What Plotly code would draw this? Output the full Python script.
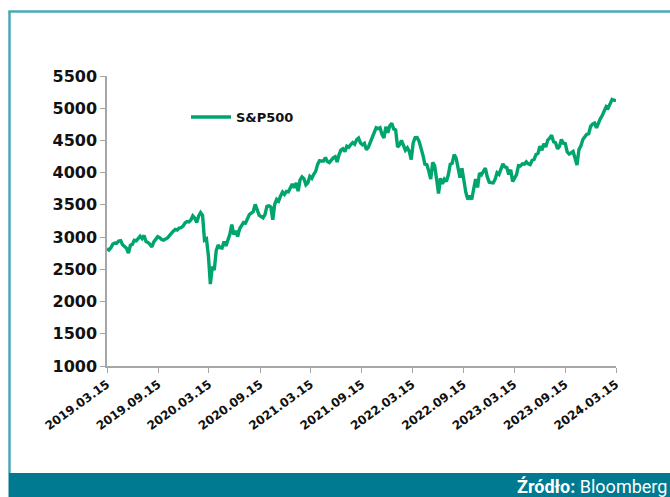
import pandas as pd
import plotly.graph_objects as go

# Weekly S&P500 closes, 2019-03-15 .. 2024-03-15
sp_2019 = [2822, 2800, 2834, 2892, 2907, 2905, 2940, 2946, 2881, 2860, 2826, 2752,
           2873, 2887, 2950, 2942, 2990, 3014, 2977, 3026, 2932, 2919, 2889, 2847,
           2926, 2979, 3007, 2992, 2962, 2952, 2970, 2986, 3023, 3067, 3093, 3120,
           3110, 3141, 3146, 3169, 3221, 3240]
sp_2020 = [3235, 3265, 3330, 3295, 3226, 3328, 3380, 3338, 2954, 2972, 2711, 2270,
           2541, 2489, 2790, 2875, 2837, 2831, 2930, 2864, 2955, 3044, 3194, 3041,
           3098, 3009, 3130, 3185, 3225, 3216, 3271, 3351, 3373, 3397, 3508, 3427,
           3341, 3319, 3298, 3348, 3477, 3484, 3465, 3270, 3510, 3585, 3558, 3638,
           3699, 3663, 3709, 3703, 3756]
sp_2021 = [3825, 3768, 3841, 3714, 3887, 3934, 3907, 3811, 3842, 3943, 3913, 3975,
           4020, 4129, 4185, 4180, 4181, 4233, 4174, 4156, 4204, 4230, 4247, 4166,
           4281, 4352, 4370, 4327, 4412, 4395, 4437, 4468, 4442, 4509, 4535, 4459,
           4433, 4455, 4357, 4391, 4471, 4545, 4605, 4697, 4683, 4698, 4595, 4538,
           4712, 4620, 4726, 4766]
sp_2022 = [4677, 4663, 4398, 4432, 4500, 4419, 4349, 4385, 4329, 4204, 4463, 4543,
           4546, 4488, 4393, 4272, 4132, 4123, 4024, 3901, 4158, 4109, 3901, 3675,
           3912, 3825, 3899, 3863, 3962, 4130, 4145, 4280, 4228, 4058, 3924, 4067,
           3873, 3693, 3586, 3640, 3583, 3753, 3901, 3771, 3993, 3965, 4026, 4072,
           3934, 3852, 3845, 3840]
sp_2023 = [3895, 3999, 3973, 4070, 4136, 4090, 4079, 3970, 4046, 3862, 3917, 3971,
           4109, 4105, 4138, 4133, 4169, 4136, 4124, 4192, 4205, 4282, 4299, 4410,
           4348, 4450, 4399, 4505, 4536, 4582, 4478, 4464, 4370, 4406, 4516, 4457,
           4450, 4320, 4288, 4309, 4328, 4224, 4117, 4358, 4415, 4514, 4559, 4595,
           4604, 4719, 4755, 4770]
sp_2024 = [4697, 4784, 4840, 4891, 4959, 5027, 5006, 5089, 5137, 5124, 5117]

values = sp_2019 + sp_2020 + sp_2021 + sp_2022 + sp_2023 + sp_2024
dates = pd.date_range("2019-03-15", "2024-03-15", periods=len(values))

tick_dates = ["2019-03-15", "2019-09-15", "2020-03-15", "2020-09-15", "2021-03-15",
              "2021-09-15", "2022-03-15", "2022-09-15", "2023-03-15", "2023-09-15",
              "2024-03-15"]
tick_labels = [d.replace("-", ".") for d in tick_dates]
y_ticks = [1000, 1500, 2000, 2500, 3000, 3500, 4000, 4500, 5000, 5500]

W, H = 670, 497
L, R, T, B = 107, 616, 76, 366


def px(x):
    return (x - L) / (R - L)


def py(y):
    return (B - y) / (B - T)


fig = go.Figure()
fig.add_trace(go.Scatter(x=dates, y=values, mode="lines", name="<b>S&P500</b>",
                         line=dict(color="#00A56E", width=3.4)))

fam = "DejaVu Sans, sans-serif"
fig.update_layout(
    width=W, height=H,
    margin=dict(l=L, r=W - R, t=T, b=H - B, pad=0),
    paper_bgcolor="white", plot_bgcolor="white",
    showlegend=True,
    legend=dict(x=px(186), y=py(102), xanchor="left", yanchor="top",
                bgcolor="rgba(0,0,0,0)", itemwidth=40,
                font=dict(family=fam, size=13, color="#111111")),
    xaxis=dict(type="date", range=[dates[0], dates[-1]], tickvals=tick_dates,
               ticktext=["<b>%s</b>" % t for t in tick_labels], tickangle=-36,
               showgrid=False, zeroline=False,
               showline=True, linecolor="#a6a6a6", linewidth=1.5, ticks="outside",
               ticklen=5, tickcolor="#a6a6a6",
               tickfont=dict(family=fam, size=12, color="#111111")),
    yaxis=dict(range=[1000, 5500], tickvals=y_ticks,
               ticktext=["<b>%d</b>" % v for v in y_ticks],
               showgrid=False, zeroline=False,
               showline=True, linecolor="#a6a6a6", linewidth=1.5, ticks="outside",
               ticklen=5, tickcolor="#a6a6a6",
               tickfont=dict(family=fam, size=16, color="#111111")),
)

# frame lines (left and top) and bottom source bar
fig.add_shape(type="line", xref="paper", yref="paper",
              x0=px(9.5), x1=px(9.5), y0=py(11), y1=py(473),
              line=dict(color="#4BA7B7", width=2.5))
fig.add_shape(type="line", xref="paper", yref="paper",
              x0=px(8.5), x1=px(672), y0=py(11.5), y1=py(11.5),
              line=dict(color="#4BA7B7", width=2.5))
fig.add_shape(type="rect", xref="paper", yref="paper",
              x0=px(8.5), x1=px(672), y0=py(473), y1=py(499),
              line=dict(width=0), fillcolor="#007A90", layer="above")
fig.add_annotation(xref="paper", yref="paper", x=px(669), y=py(486),
                   xanchor="right", yanchor="middle", showarrow=False,
                   text="<b>Źródło:</b> Bloomberg",
                   font=dict(family="Roboto, sans-serif", size=18, color="white"))

fig.write_html("out.html",
               config={"displayModeBar": False},
               post_script="document.body.style.margin='0px';"
                           "document.body.style.overflow='hidden';")
